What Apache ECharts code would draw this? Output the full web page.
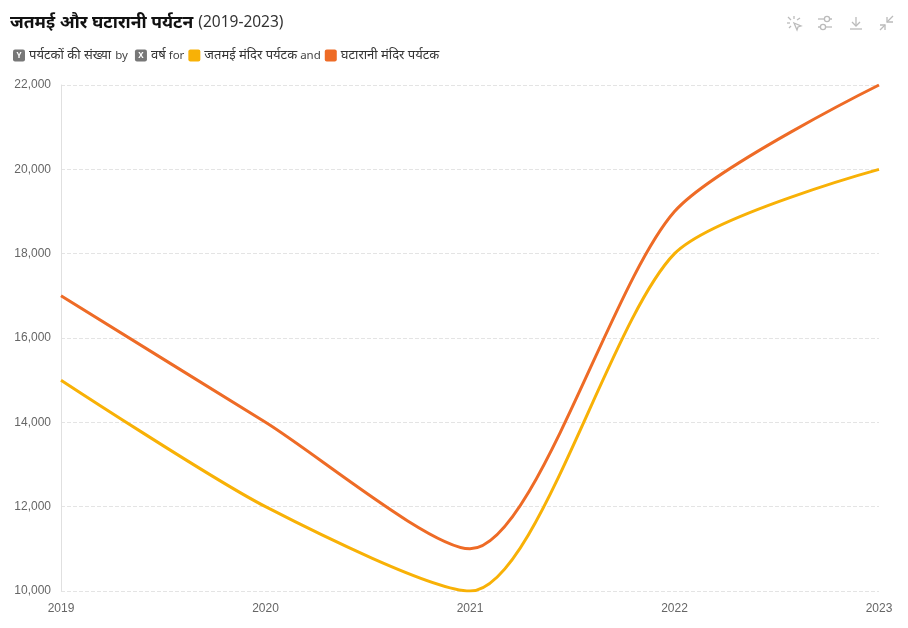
<!DOCTYPE html>
<html><head><meta charset="utf-8">
<style>html,body{margin:0;padding:0;background:#fff}#c{width:908px;height:628px}</style>
<script src="https://cdn.jsdelivr.net/npm/echarts@6/dist/echarts.min.js"></script>
</head><body><div id="c"></div>
<script>
const years = ['2019','2020','2021','2022','2023'];
const jatmaiName = 'जतमई मंदिर पर्यटक';
const ghataraniName = 'घटारानी मंदिर पर्यटक';
const jatmai = [15000,12000,10000,18000,20000];
const ghatarani = [17000,14000,11000,19000,22000];
const colors = ['#F8B106','#EE6B26'];
const FF = '"Noto Sans","Noto Sans Devanagari","Open Sans",sans-serif';
const chart = echarts.init(document.getElementById('c'),null,{renderer:'canvas'});
const iconStyle = {fill:'none',stroke:'#bbb',lineWidth:1.3};
const pl = pts=>({type:'polyline',silent:true,shape:{points:pts},style:iconStyle});
const ci = (cx,cy)=>({type:'circle',silent:true,shape:{cx,cy,r:2.6},style:{fill:'#fff',stroke:'#bbb',lineWidth:1.3}});
const pg = pts=>({type:'polygon',silent:true,shape:{points:pts},style:iconStyle});
const gap = w=>({width:w,height:1});
chart.setOption({
  animation:false,
  backgroundColor:'#fff',
  title:[{
    left:10,top:14,padding:0,
    text:'{a|जतमई और घटारानी पर्यटन} {b|(2019-2023)}',
    textStyle:{fontWeight:'normal',rich:{
      a:{fontFamily:FF,fontSize:17.5,fontWeight:700,color:'#111'},
      b:{fontFamily:FF,fontSize:15.5,fontWeight:400,color:'#333'}
    }}
  },{
    left:13,top:49,padding:0,
    text:'{y|Y}{g4|}{t|पर्यटकों की संख्या}{g4|}{e|by}{g7|}{y|X}{g4|}{t|वर्ष}{g3|}{e|for}{g4|}{s1|}{g4|}{t|'+jatmaiName+'}{g3|}{e|and}{g4|}{s2|}{g4|}{t|'+ghataraniName+'}',
    textStyle:{fontWeight:'normal',rich:{
      y:{backgroundColor:'#777',color:'#fff',fontFamily:FF,fontSize:8,fontWeight:700,width:12,height:12,lineHeight:12,align:'center',borderRadius:2},
      t:{fontFamily:FF,fontSize:13,fontWeight:400,color:'#333'},
      e:{fontFamily:FF,fontSize:11.5,fontWeight:400,color:'#444'},
      g3:gap(3),g4:gap(4),g7:gap(7),
      s1:{backgroundColor:colors[0],width:12,height:12,borderRadius:2},
      s2:{backgroundColor:colors[1],width:12,height:12,borderRadius:2}
    }}
  }],
  graphic:[
    pg([[794,23],[801,26],[798,27],[797,30]]),
    pl([[788,17],[791,20]]),pl([[794,16],[794,19]]),pl([[800,18],[797,20]]),pl([[787,23],[790,23]]),pl([[789,28],[791,26]]),
    pl([[818,19],[824,19]]),pl([[830,19],[832,19]]),ci(827,19),
    pl([[818,27],[820,27]]),pl([[826,27],[832,27]]),ci(823,27),
    pl([[856,17],[856,26]]),pl([[852,22],[856,26],[860,22]]),pl([[850,29],[862,29]]),
    pl([[887,22],[893,16]]),pl([[887,17],[887,22],[893,22]]),
    pl([[885,25],[880,30]]),pl([[880,25],[885,25],[885,30]])
  ],
  grid:{left:61,right:29,top:85,bottom:37,containLabel:false},
  xAxis:{
    type:'category',data:years,boundaryGap:false,
    axisLine:{show:false},
    axisTick:{show:false},
    axisLabel:{color:'#666',fontFamily:'Liberation Sans,Arial,sans-serif',fontSize:12,margin:12,hideOverlap:false,showMinLabel:true,showMaxLabel:true},
    splitLine:{show:false}
  },
  yAxis:{
    type:'value',min:10000,max:22000,interval:2000,
    axisLine:{show:true,lineStyle:{color:'#e0e0e0',width:1}},
    axisTick:{show:false},
    axisLabel:{color:'#666',fontFamily:'Liberation Sans,Arial,sans-serif',fontSize:12,margin:10,padding:[4,0,0,0],formatter:v=>v.toLocaleString('en-US')},
    splitLine:{show:true,lineStyle:{color:'#e4e4e4',type:'dashed',width:1}}
  },
  series:[
    {name:jatmaiName,type:'line',data:jatmai,smooth:0.25,showSymbol:false,lineStyle:{color:colors[0],width:3},itemStyle:{color:colors[0]}},
    {name:ghataraniName,type:'line',data:ghatarani,smooth:0.25,showSymbol:false,lineStyle:{color:colors[1],width:3},itemStyle:{color:colors[1]}}
  ]
});
</script></body></html>
